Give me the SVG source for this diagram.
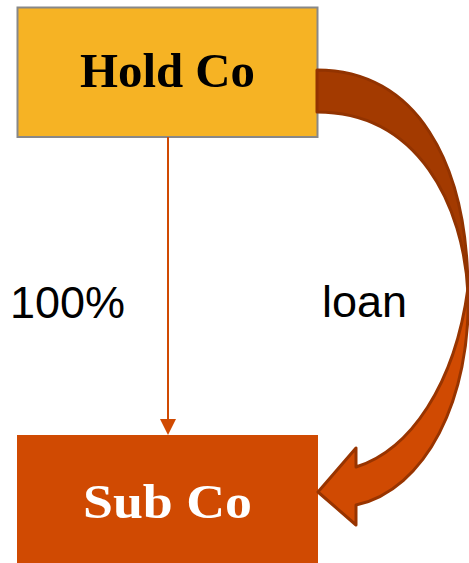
<svg xmlns="http://www.w3.org/2000/svg" width="469" height="563" viewBox="0 0 469 563">
  <style>
    .title { font-family: "Liberation Serif", "Times New Roman", serif; font-weight: bold; font-size: 48px; text-anchor: middle; }
    .label { font-family: "Liberation Sans", Arial, sans-serif; font-size: 45px; fill: #000000; }
    .ribbon { stroke-width: 3; stroke-linejoin: round; }
  </style>
  <rect width="469" height="563" fill="#ffffff"/>

  <!-- nodes -->
  <g id="hold-co">
    <rect x="17.5" y="7.5" width="300" height="129.5" fill="#F6B324" stroke="#888888" stroke-width="2"/>
    <text class="title" x="167.5" y="87" fill="#000000" textLength="175" lengthAdjust="spacingAndGlyphs">Hold Co</text>
  </g>
  <g id="sub-co">
    <rect x="17" y="435" width="301" height="128" fill="#D04A02"/>
    <text class="title" x="167.5" y="518" fill="#ffffff" textLength="169" lengthAdjust="spacingAndGlyphs">Sub Co</text>
  </g>

  <!-- connectors -->
  <g id="connectors">
    <!-- ownership line -->
    <line x1="168" y1="137" x2="168" y2="420" stroke="#D04A02" stroke-width="2"/>
    <path d="M160,419 L176,419 L168,435 Z" fill="#D04A02"/>
    <!-- loan curved arrow: back face -->
    <path class="ribbon" d="M317,70 C415,70 468,160 468,294 C464,205 418,112 317,112 Z" fill="#A33A00" stroke="#923300"/>
    <!-- loan curved arrow: front face with head -->
    <path class="ribbon" d="M468,288 C472,400 425,490 356,505 L356,525 L318,492 L356,448 L356,467 C410,450 455,385 468,288 Z" fill="#D04A02" stroke="#983400"/>
  </g>

  <!-- edge labels -->
  <text class="label" x="10" y="318">100%</text>
  <text class="label" x="322" y="317">loan</text>
</svg>
